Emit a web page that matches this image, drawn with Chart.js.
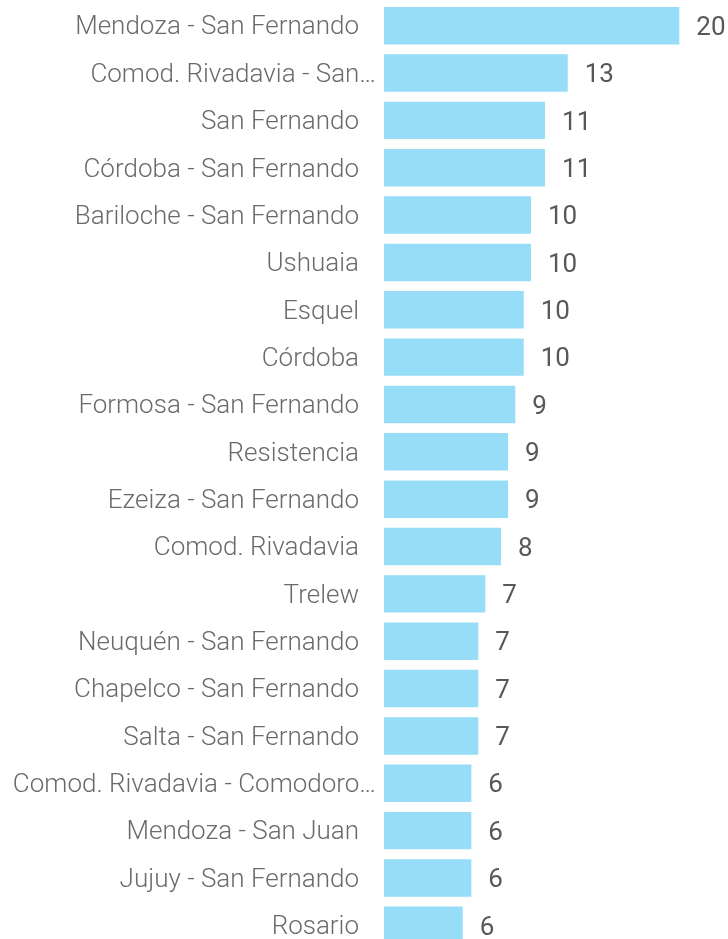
<!DOCTYPE html>
<html>
<head>
<meta charset="utf-8">
<script src="https://cdn.jsdelivr.net/npm/chart.js@4.4.1/dist/chart.umd.min.js"></script>
<style>
  html, body { margin: 0; padding: 0; background: #fff; overflow: hidden; }
  #wrap { position: relative; width: 728px; height: 950px; }
</style>
</head>
<body>
<div id="wrap"><canvas id="c"></canvas></div>
<script>
const categories = [
  "Mendoza - San Fernando",
  "Comod. Rivadavia - San…",
  "San Fernando",
  "Córdoba - San Fernando",
  "Bariloche - San Fernando",
  "Ushuaia",
  "Esquel",
  "Córdoba",
  "Formosa - San Fernando",
  "Resistencia",
  "Ezeiza - San Fernando",
  "Comod. Rivadavia",
  "Trelew",
  "Neuquén - San Fernando",
  "Chapelco - San Fernando",
  "Salta - San Fernando",
  "Comod. Rivadavia - Comodoro…",
  "Mendoza - San Juan",
  "Jujuy - San Fernando",
  "Rosario"
];
const values = [20.29, 12.75, 11.22, 11.22, 10.27, 10.27, 9.78, 9.78, 9.21, 8.72,
                8.72, 8.24, 7.18, 6.71, 6.71, 6.71, 6.24, 6.24, 6.24, 5.66];
const axisMin = 0;
const axisMax = 22;
const barBase = 0.34;

const labelPlugin = {
  id: 'labels',
  afterDatasetsDraw(chart) {
    const ctx = chart.ctx;
    const y = chart.scales.y;
    const meta = chart.getDatasetMeta(0);
    ctx.save();
    ctx.textBaseline = 'alphabetic';
    // category labels
    ctx.font = '300 26px Roboto';
    ctx.fillStyle = '#6a6a6a';
    ctx.textAlign = 'right';
    const barLeft = chart.scales.x.getPixelForValue(barBase);
    categories.forEach((lab, i) => {
      const py = y.getPixelForValue(i);
      const truncated = lab.endsWith('…');
      ctx.fillText(lab, barLeft - (truncated ? 8 : 25), py + 8.8);
    });
    // value labels
    ctx.font = '400 26px Roboto';
    ctx.fillStyle = '#585858';
    ctx.textAlign = 'left';
    meta.data.forEach((bar, i) => {
      ctx.fillText(String(Math.round(values[i])), bar.x + 17, bar.y + 9.2);
    });
    ctx.restore();
  }
};

new Chart(document.getElementById('c'), {
  type: 'bar',
  data: {
    labels: categories,
    datasets: [{
      data: values,
      base: barBase,
      backgroundColor: '#97ddf7',
      borderWidth: 0,
      barPercentage: 0.79,
      categoryPercentage: 1.0
    }]
  },
  options: {
    indexAxis: 'y',
    responsive: true,
    maintainAspectRatio: false,
    animation: false,
    layout: { padding: { left: 379, right: 23.4, top: 2, bottom: 1 } },
    plugins: { legend: { display: false }, tooltip: { enabled: false } },
    scales: {
      x: { display: false, min: axisMin, max: axisMax },
      y: { display: false }
    }
  },
  plugins: [labelPlugin]
});
</script>
</body>
</html>
